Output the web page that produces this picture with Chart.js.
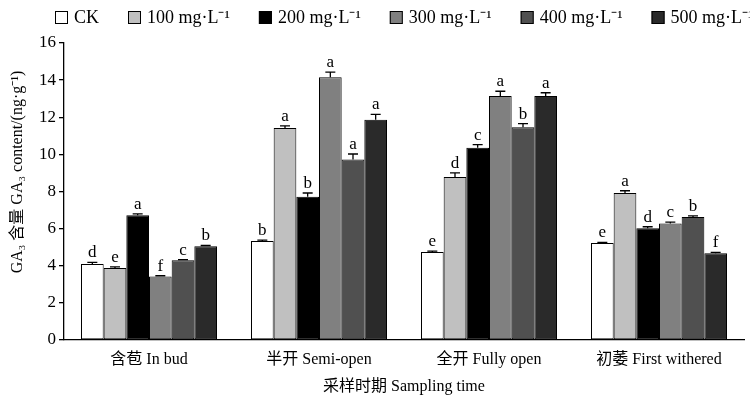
<!DOCTYPE html>
<html>
<head>
<meta charset="utf-8">
<script src="https://cdn.jsdelivr.net/npm/chart.js@4.4.1/dist/chart.umd.min.js"></script>
<style>
    html, body { margin: 0; padding: 0; background: #fff; }
    #wrap { width: 750px; height: 397px; }
</style>
</head>
<body>
<div id="wrap"><canvas id="gaChart" width="750" height="397"></canvas></div>
<script>
const categories = ['含苞 In bud', '半开 Semi-open', '全开 Fully open', '初萎 First withered'];
const seriesNames = ['CK', '100 mg·L⁻¹', '200 mg·L⁻¹', '300 mg·L⁻¹', '400 mg·L⁻¹', '500 mg·L⁻¹'];
const seriesColors = ['#ffffff', '#c0c0c0', '#000000', '#808080', '#505050', '#2a2a2a'];

// GA3 content (ng·g-1)
const ckValues = [4.10, 5.33, 4.74, 5.22];
const c100Values = [3.88, 11.42, 8.78, 7.92];
const c200Values = [6.72, 7.72, 10.36, 6.02];
const c300Values = [3.42, 14.15, 13.15, 6.27];
const c400Values = [4.30, 9.72, 11.46, 6.62];
const c500Values = [5.05, 11.87, 13.14, 4.68];

// error bars (upper only)
const ckErr = [0.08, 0.05, 0.05, 0.04];
const c100Err = [0.06, 0.12, 0.22, 0.12];
const c200Err = [0.08, 0.2, 0.16, 0.08];
const c300Err = [0.04, 0.28, 0.25, 0.08];
const c400Err = [0.03, 0.3, 0.2, 0.07];
const c500Err = [0.04, 0.28, 0.18, 0.04];

// significance letters
const ckLetters = ['d', 'b', 'e', 'e'];
const c100Letters = ['e', 'a', 'd', 'a'];
const c200Letters = ['a', 'b', 'c', 'd'];
const c300Letters = ['f', 'a', 'a', 'c'];
const c400Letters = ['c', 'a', 'b', 'b'];
const c500Letters = ['b', 'a', 'a', 'f'];

const yTicks = [0, 2, 4, 6, 8, 10, 12, 14, 16];
const yTitle = 'GA₃ 含量 GA₃ content/(ng·g⁻¹)';

const allValues = [ckValues, c100Values, c200Values, c300Values, c400Values, c500Values];
const allErr = [ckErr, c100Err, c200Err, c300Err, c400Err, c500Err];
const allLetters = [ckLetters, c100Letters, c200Letters, c300Letters, c400Letters, c500Letters];

const FONT = "'Liberation Serif', 'Times New Roman', 'Noto Sans CJK SC', serif";

// draws the error bars and the letters above them
const errorBarPlugin = {
    id: 'errorBars',
    afterDatasetsDraw(chart) {
        const ctx = chart.ctx;
        const yScale = chart.scales.y;
        ctx.save();
        chart.data.datasets.forEach((ds, di) => {
            const meta = chart.getDatasetMeta(di);
            meta.data.forEach((bar, i) => {
                const v = ds.data[i];
                const top = yScale.getPixelForValue(v + allErr[di][i]);
                const base = yScale.getPixelForValue(v);
                ctx.strokeStyle = '#000';
                ctx.lineWidth = 1.3;
                ctx.beginPath();
                ctx.moveTo(bar.x, base);
                ctx.lineTo(bar.x, top);
                ctx.moveTo(bar.x - 5, top);
                ctx.lineTo(bar.x + 5, top);
                ctx.stroke();

                ctx.fillStyle = '#000';
                ctx.font = '17px ' + FONT;
                ctx.textAlign = 'center';
                ctx.textBaseline = 'bottom';
                ctx.fillText(allLetters[di][i], bar.x, top - 1);
            });
        });
        ctx.restore();
    }
};

// legend row across the top + rotated y title
const legendPlugin = {
    id: 'topLegend',
    afterDraw(chart) {
        const ctx = chart.ctx;
        ctx.save();
        ctx.font = '18px ' + FONT;
        ctx.textBaseline = 'middle';
        ctx.textAlign = 'left';
        let x = 55;
        chart.data.datasets.forEach((ds) => {
            ctx.fillStyle = ds.backgroundColor;
            ctx.fillRect(x, 11, 13, 13);
            ctx.strokeStyle = '#000';
            ctx.lineWidth = 1;
            ctx.strokeRect(x + 0.5, 11.5, 12, 12);
            ctx.fillStyle = '#000';
            ctx.fillText(ds.label, x + 19, 18);
            x += 19 + ctx.measureText(ds.label).width + 29;
        });

        ctx.font = '16px ' + FONT;
        ctx.translate(18, 172);
        ctx.rotate(-Math.PI / 2);
        ctx.textAlign = 'center';
        ctx.fillText(yTitle, 0, 0);
        ctx.restore();
    }
};

const ctx = document.getElementById('gaChart').getContext('2d');

new Chart(ctx, {
    type: 'bar',
    data: {
        labels: categories,
        datasets: seriesNames.map((name, i) => ({
            label: name,
            data: allValues[i],
            backgroundColor: seriesColors[i],
            borderColor: '#000',
            borderWidth: 1,
            borderSkipped: false,
            categoryPercentage: 0.8,
            barPercentage: 1.0
        }))
    },
    options: {
        responsive: false,
        animation: false,
        devicePixelRatio: 1,
        layout: { padding: { top: 43, right: 6, left: 0, bottom: 0 } },
        plugins: {
            legend: { display: false },
            tooltip: { enabled: false }
        },
        scales: {
            x: {
                afterFit(scale) { scale.height = 57; },
                grid: { display: false },
                border: { display: true, color: '#000', width: 1.3 },
                ticks: { color: '#000', font: { family: FONT, size: 16 }, padding: 2 },
                title: {
                    display: true,
                    text: '采样时期 Sampling time',
                    color: '#000',
                    font: { family: FONT, size: 16 },
                    padding: { top: 0, bottom: 1 }
                }
            },
            y: {
                min: 0,
                max: 16,
                afterFit(scale) { scale.width = 64; },
                afterBuildTicks(scale) {
                    scale.ticks = yTicks.map(v => ({ value: v }));
                },
                grid: { drawOnChartArea: false, tickLength: 5, color: '#000', lineWidth: 1.3 },
                border: { display: true, color: '#000', width: 1.3 },
                ticks: { color: '#000', font: { family: FONT, size: 17 }, padding: 3 }
            }
        }
    },
    plugins: [errorBarPlugin, legendPlugin]
});
</script>
</body>
</html>
